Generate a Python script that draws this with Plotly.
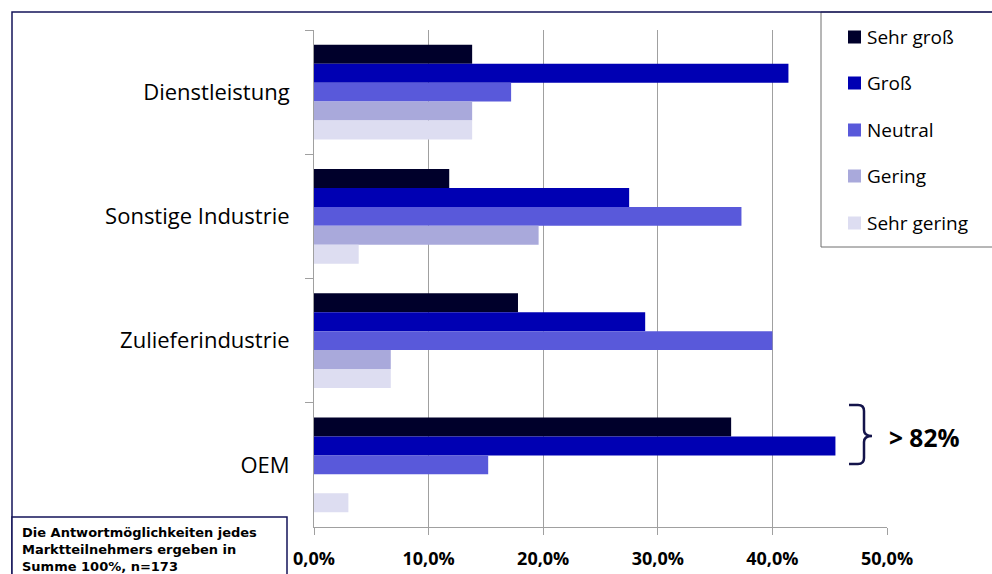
import plotly.graph_objects as go

categories = ["Dienstleistung", "Sonstige Industrie", "Zulieferindustrie", "OEM"]
series_names = ["Sehr groß", "Groß", "Neutral", "Gering", "Sehr gering"]
sehr_gross = [13.8, 11.8, 17.8, 36.4]
gross = [41.4, 27.5, 28.9, 45.5]
neutral = [17.2, 37.3, 40.0, 15.2]
gering = [13.8, 19.6, 6.7, 0.0]
sehr_gering = [13.8, 3.9, 6.7, 3.0]
series_values = [sehr_gross, gross, neutral, gering, sehr_gering]
colors = ["#00002B", "#0000B3", "#5959DA", "#A9A9DB", "#DDDDF1"]
tick_vals = [0, 10, 20, 30, 40, 50]
tick_labels = ["0,0%", "10,0%", "20,0%", "30,0%", "40,0%", "50,0%"]
note_text = "Die Antwortmöglichkeiten jedes<br>Marktteilnehmers ergeben in<br>Summe 100%, n=173"
callout_text = "> 82%"

W, H = 992, 574
L, R, T, B = 314, 887, 30, 527  # plot area in pixels
FONT = "Open Sans"


def X(px):
    return (px - L) / (R - L)


def Y(py):
    return (B - py) / (B - T)


fig = go.Figure()
for name, vals, col in zip(series_names, series_values, colors):
    fig.add_trace(go.Bar(
        y=categories, x=vals, name=name, orientation="h",
        marker=dict(color=col, line=dict(width=0)),
        showlegend=False, hoverinfo="x+name",
    ))

shapes = []
# legend box
shapes.append(dict(type="rect", xref="paper", yref="paper",
                   x0=X(821), x1=X(1000), y0=Y(247), y1=Y(12),
                   line=dict(color="#6E6E6E", width=1), fillcolor="white", layer="above"))
# outer border
shapes.append(dict(type="rect", xref="paper", yref="paper",
                   x0=X(12), x1=X(1010), y0=Y(600), y1=Y(12),
                   line=dict(color="#14145A", width=1.5), fillcolor="rgba(0,0,0,0)", layer="above"))
# note box
shapes.append(dict(type="rect", xref="paper", yref="paper",
                   x0=X(12), x1=X(287), y0=Y(600), y1=Y(517),
                   line=dict(color="#14145A", width=1.5), fillcolor="white", layer="above"))

# legend squares
legend_y = [37, 83, 130, 176, 223]
annotations = []
for name, col, ly in zip(series_names, colors, legend_y):
    shapes.append(dict(type="rect", xref="paper", yref="paper",
                       x0=X(848), x1=X(861), y0=Y(ly + 6.5), y1=Y(ly - 6.5),
                       line=dict(width=0), fillcolor=col, layer="above"))
    annotations.append(dict(xref="paper", yref="paper", x=X(865), y=Y(ly),
                            text=name, showarrow=False, xanchor="left", yanchor="middle",
                            font=dict(family=FONT, size=19, color="#000000")))

# brace
pts = [(849, 405), (858, 405), (864, 405), (864, 411), (864, 430), (864, 436), (872, 436),
       (864, 436), (864, 442), (864, 458), (864, 464), (858, 464), (849, 464)]
P = [(X(a), Y(b)) for a, b in pts]
path = (f"M {P[0][0]},{P[0][1]} L {P[1][0]},{P[1][1]} Q {P[2][0]},{P[2][1]} {P[3][0]},{P[3][1]} "
        f"L {P[4][0]},{P[4][1]} Q {P[5][0]},{P[5][1]} {P[6][0]},{P[6][1]} "
        f"Q {P[7][0]},{P[7][1]} {P[8][0]},{P[8][1]} L {P[9][0]},{P[9][1]} "
        f"Q {P[10][0]},{P[10][1]} {P[11][0]},{P[11][1]} L {P[12][0]},{P[12][1]}")
shapes.append(dict(type="path", xref="paper", yref="paper", path=path,
                   line=dict(color="#14144B", width=2.5), layer="above"))

annotations.append(dict(xref="paper", yref="paper", x=X(887), y=Y(437), text=callout_text,
                        showarrow=False, xanchor="left", yanchor="middle",
                        font=dict(family=FONT, size=24.5, color="#000000", weight="bold")))
annotations.append(dict(xref="paper", yref="paper", x=X(20), y=Y(549), text=note_text,
                        showarrow=False, xanchor="left", yanchor="middle", align="left",
                        font=dict(family="DejaVu Sans", size=13, color="#000000", weight="bold")))

fig.update_layout(
    width=W, height=H,
    margin=dict(l=L, r=W - R, t=T, b=H - B, autoexpand=False),
    paper_bgcolor="white", plot_bgcolor="white",
    barmode="group", bargap=0.236, bargroupgap=0,
    shapes=shapes, annotations=annotations,
    font=dict(family=FONT),
)
fig.update_xaxes(range=[0, 50], tickvals=tick_vals, ticktext=tick_labels, automargin=False,
                 showgrid=True, gridcolor="#A0A0A0", gridwidth=1, zeroline=False,
                 showline=True, linecolor="#A0A0A0", linewidth=1,
                 ticks="outside", ticklen=7, tickcolor="#A0A0A0", ticklabelstandoff=8,
                 tickfont=dict(family=FONT, size=18, color="#000000", weight="bold"))
fig.update_yaxes(type="category", autorange="reversed", tickson="boundaries", automargin=False,
                 showgrid=False, zeroline=False, showline=True, linecolor="#A0A0A0", linewidth=1,
                 ticks="outside", ticklen=8, tickcolor="#A0A0A0", ticklabelstandoff=19,
                 tickfont=dict(family=FONT, size=22, color="#000000"))

post = ("document.documentElement.style.margin='0px';"
        "document.documentElement.style.overflow='hidden';"
        "document.body.style.margin='0px';document.body.style.overflow='hidden';"
        "var d=document.getElementById('{plot_id}');"
        "d.style.position='fixed';d.style.left='0px';d.style.top='0px';")
fig.write_html("out.html", config={"displayModeBar": False}, post_script=post)
